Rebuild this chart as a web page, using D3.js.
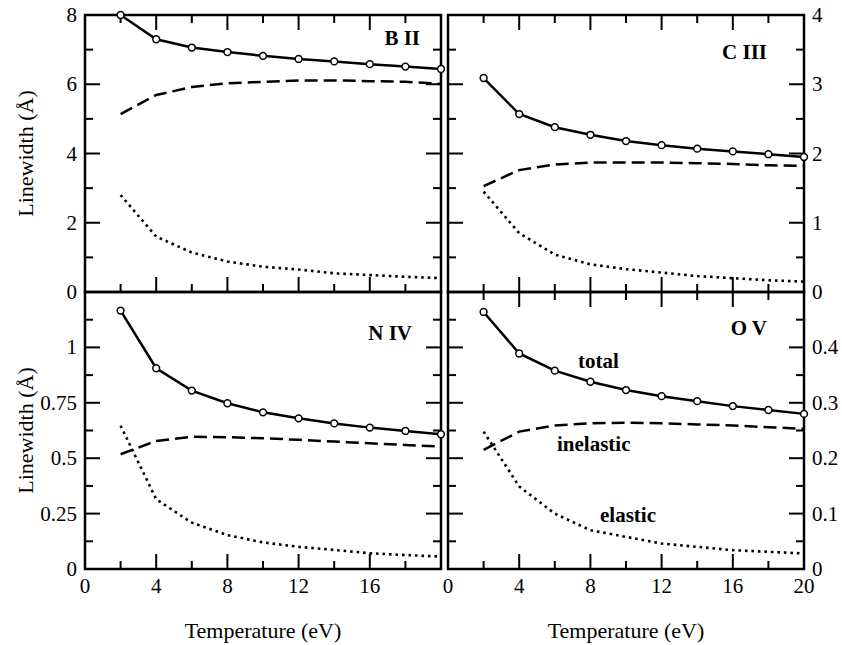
<!DOCTYPE html>
<html>
<head>
<meta charset="utf-8">
<script src="https://cdn.jsdelivr.net/npm/d3@7"></script>
<style>
  body { margin: 0; background: #fff; }
  text { font-family: "Liberation Serif", "Times New Roman", serif; fill: #000; }
</style>
</head>
<body>
<div id="chart"></div>
<script>
// temperatures (eV)
const temps = [2, 4, 6, 8, 10, 12, 14, 16, 18, 20];

// B II
const bTotal = [8.0, 7.30, 7.06, 6.93, 6.82, 6.73, 6.66, 6.58, 6.51, 6.44];
const bInelastic = [5.14, 5.69, 5.92, 6.03, 6.07, 6.11, 6.11, 6.09, 6.07, 6.01];
const bElastic = [2.80, 1.60, 1.14, 0.88, 0.73, 0.65, 0.54, 0.49, 0.44, 0.40];

// C III
const cTotal = [3.09, 2.57, 2.38, 2.27, 2.18, 2.12, 2.07, 2.03, 1.99, 1.95];
const cInelastic = [1.53, 1.76, 1.84, 1.87, 1.87, 1.87, 1.86, 1.85, 1.83, 1.82];
const cElastic = [1.45, 0.85, 0.54, 0.40, 0.33, 0.28, 0.23, 0.20, 0.17, 0.15];

// N IV
const nTotal = [1.166, 0.906, 0.805, 0.748, 0.707, 0.680, 0.657, 0.638, 0.623, 0.608];
const nInelastic = [0.518, 0.578, 0.597, 0.595, 0.590, 0.583, 0.575, 0.567, 0.560, 0.552];
const nElastic = [0.647, 0.315, 0.209, 0.153, 0.120, 0.100, 0.086, 0.071, 0.063, 0.056];

// O V
const oTotal = [0.464, 0.389, 0.358, 0.338, 0.323, 0.312, 0.303, 0.294, 0.287, 0.280];
const oInelastic = [0.215, 0.248, 0.259, 0.263, 0.264, 0.263, 0.261, 0.259, 0.256, 0.253];
const oElastic = [0.248, 0.149, 0.100, 0.070, 0.058, 0.046, 0.040, 0.034, 0.031, 0.028];

// tick labels
const xTicksLeft = [0, 4, 8, 12, 16];
const xTicksRight = [0, 4, 8, 12, 16, 20];
const bTicks = [0, 2, 4, 6, 8];
const cTicks = [0, 1, 2, 3, 4];
const nTicks = [0, 0.25, 0.5, 0.75, 1];
const oTicks = [0, 0.1, 0.2, 0.3, 0.4];

const width = 842, height = 645;
const svg = d3.select("#chart").append("svg")
    .attr("width", width)
    .attr("height", height);

// panel boxes
const colX = [[85, 441], [448, 804]];
const rowY = [[15, 292], [292, 569]];

const panels = [
    { name: "B II", col: 0, row: 0, ymax: 8, major: 2, minor: 1, yTicks: bTicks, total: bTotal, inel: bInelastic, elas: bElastic, lab: [420, 45], topTicks: true },
    { name: "C III", col: 1, row: 0, ymax: 4, major: 1, minor: 0.5, yTicks: cTicks, total: cTotal, inel: cInelastic, elas: cElastic, lab: [767, 59], topTicks: true },
    { name: "N IV", col: 0, row: 1, ymax: 1.25, major: 0.25, minor: 0.125, yTicks: nTicks, total: nTotal, inel: nInelastic, elas: nElastic, lab: [412, 340], topTicks: false, xTicks: xTicksLeft },
    { name: "O V", col: 1, row: 1, ymax: 0.5, major: 0.1, minor: 0.05, yTicks: oTicks, total: oTotal, inel: oInelastic, elas: oElastic, lab: [767, 335], topTicks: true, xTicks: xTicksRight }
];

panels.forEach(function (p) {
    const [x0, x1] = colX[p.col];
    const [y0, y1] = rowY[p.row];

    const x = d3.scaleLinear().domain([0, 20]).range([x0, x1]);
    const y = d3.scaleLinear().domain([0, p.ymax]).range([y1, y0]);
    const g = svg.append("g");

    // ticks on all four sides, pointing inward
    const xMinor = d3.range(0, 20.001, 2);
    const yMinor = d3.range(0, p.ymax + 1e-6, p.minor);
    const isMajorX = d => Math.abs(d / 4 - Math.round(d / 4)) < 1e-6;
    const isMajorY = d => Math.abs(d / p.major - Math.round(d / p.major)) < 1e-6;

    xMinor.forEach(function (d) {
        const len = isMajorX(d) ? 15 : 8;
        g.append("line").attr("x1", x(d)).attr("x2", x(d))
            .attr("y1", y1).attr("y2", y1 - len)
            .attr("stroke", "#000").attr("stroke-width", 2);
        if (p.topTicks) {
            g.append("line").attr("x1", x(d)).attr("x2", x(d))
                .attr("y1", y0).attr("y2", y0 + len)
                .attr("stroke", "#000").attr("stroke-width", 2);
        }
    });
    yMinor.forEach(function (d) {
        const len = isMajorY(d) ? 15 : 8;
        g.append("line").attr("x1", x0).attr("x2", x0 + len)
            .attr("y1", y(d)).attr("y2", y(d))
            .attr("stroke", "#000").attr("stroke-width", 2);
        g.append("line").attr("x1", x1).attr("x2", x1 - len)
            .attr("y1", y(d)).attr("y2", y(d))
            .attr("stroke", "#000").attr("stroke-width", 2);
    });

    // frame
    g.append("rect")
        .attr("x", x0).attr("y", y0)
        .attr("width", x1 - x0).attr("height", y1 - y0)
        .attr("fill", "none").attr("stroke", "#000").attr("stroke-width", 2.5);

    // y tick labels
    p.yTicks.forEach(function (d) {
        g.append("text")
            .attr("x", p.col === 0 ? x0 - 8 : x1 + 8)
            .attr("y", y(d) + 7)
            .attr("text-anchor", p.col === 0 ? "end" : "start")
            .attr("font-size", 21)
            .text(d);
    });

    // x tick labels (bottom row only)
    if (p.xTicks) {
        p.xTicks.forEach(function (d) {
            g.append("text")
                .attr("x", x(d))
                .attr("y", y1 + 24)
                .attr("text-anchor", "middle")
                .attr("font-size", 21)
                .text(d);
        });
    }

    const line = d3.line()
        .x((d, i) => x(temps[i]))
        .y(d => y(d));

    // elastic (dotted)
    g.append("path").datum(p.elas)
        .attr("fill", "none").attr("stroke", "#000")
        .attr("stroke-width", 2.6)
        .attr("stroke-dasharray", "2.6,3.9")
        .attr("d", line);

    // inelastic (dashed)
    g.append("path").datum(p.inel)
        .attr("fill", "none").attr("stroke", "#000")
        .attr("stroke-width", 2.5)
        .attr("stroke-dasharray", "13,6")
        .attr("d", line);

    // total (solid with circles)
    g.append("path").datum(p.total)
        .attr("fill", "none").attr("stroke", "#000")
        .attr("stroke-width", 2.5)
        .attr("d", line);
    g.selectAll("circle").data(p.total).join("circle")
        .attr("cx", (d, i) => x(temps[i]))
        .attr("cy", d => y(d))
        .attr("r", 3.4)
        .attr("fill", "#fff")
        .attr("stroke", "#000")
        .attr("stroke-width", 1.5);

    // panel label
    g.append("text")
        .attr("x", p.lab[0]).attr("y", p.lab[1])
        .attr("text-anchor", "end")
        .attr("font-size", 21)
        .attr("font-weight", "bold")
        .text(p.name);
});

// curve labels in O V panel
const curveLabels = [
    { text: "total", x: 578, y: 368 },
    { text: "inelastic", x: 557, y: 451 },
    { text: "elastic", x: 600, y: 522 }
];
curveLabels.forEach(function (c) {
    svg.append("text")
        .attr("x", c.x).attr("y", c.y)
        .attr("font-size", 21)
        .attr("font-weight", "bold")
        .text(c.text);
});

// axis titles
[263, 626].forEach(function (cx) {
    svg.append("text")
        .attr("x", cx).attr("y", 638)
        .attr("text-anchor", "middle")
        .attr("font-size", 22)
        .text("Temperature (eV)");
});
[153.5, 430.5].forEach(function (cy) {
    svg.append("text")
        .attr("transform", "translate(33," + cy + ") rotate(-90)")
        .attr("text-anchor", "middle")
        .attr("font-size", 22)
        .text("Linewidth (Å)");
});
</script>
</body>
</html>
